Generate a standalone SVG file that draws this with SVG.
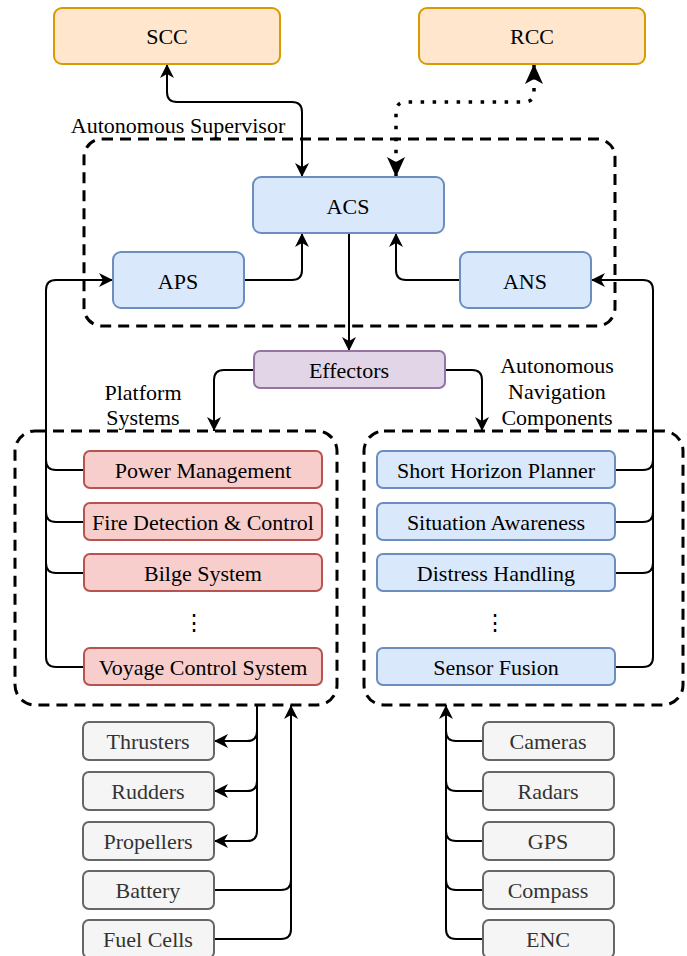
<svg xmlns="http://www.w3.org/2000/svg" width="687" height="956" viewBox="0 0 687 956" font-family="'Liberation Serif', Tinos, 'DejaVu Serif', 'Times New Roman', serif">
<style>
text{font-family:'Liberation Serif', Tinos, 'DejaVu Serif', 'Times New Roman', serif;font-size:22px;text-anchor:middle;fill:#000}
.orange{fill:#ffe6cc;stroke:#d79b00;stroke-width:2}
.blue{fill:#dae8fc;stroke:#6c8ebf;stroke-width:2}
.purple{fill:#e1d5e7;stroke:#9673a6;stroke-width:2}
.red{fill:#f8cecc;stroke:#b85450;stroke-width:2}
.grey{fill:#f5f5f5;stroke:#666666;stroke-width:2}
.gt{fill:#333333}
.cont{fill:none;stroke:#000;stroke-width:3;stroke-dasharray:11 7}
.c{fill:none;stroke:#000;stroke-width:2}
.a{marker-end:url(#arr)}
.dot{fill:none;stroke:#000;stroke-width:3.5;stroke-dasharray:3.5 8.5;marker-start:url(#arrB);marker-end:url(#arrB)}
</style>
<defs>
<marker id="arr" markerUnits="userSpaceOnUse" markerWidth="16" markerHeight="16" viewBox="0 0 16 16" refX="15" refY="8" orient="auto-start-reverse">
<path d="M1,1 L15,8 L1,15 L5,8 Z" fill="#000" stroke="none"/>
</marker>
<marker id="arrB" markerUnits="userSpaceOnUse" markerWidth="22" markerHeight="20" viewBox="0 0 22 20" refX="21" refY="10" orient="auto-start-reverse">
<path d="M1,1 L21,10 L1,19 L6,10 Z" fill="#000" stroke="none"/>
</marker>
</defs>

<g id="containers">
<rect class="cont" x="84" y="139" width="531" height="187" rx="18"/>
<rect class="cont" x="15" y="431" width="322" height="274" rx="20"/>
<rect class="cont" x="364" y="431" width="319" height="274" rx="20"/>
</g>

<g id="labels">
<text x="178" y="133">Autonomous Supervisor</text>
<text x="143" y="400">Platform</text>
<text x="143" y="425">Systems</text>
<text x="557" y="373">Autonomous</text>
<text x="557" y="399">Navigation</text>
<text x="557" y="425">Components</text>
<text x="194" y="630">⋮</text>
<text x="495" y="630">⋮</text>
</g>

<g id="connectors">
<path class="c" d="M167,64 L167,92 Q167,102 177,102 L292,102 Q302,102 302,112 L302,177" marker-start="url(#arr)" marker-end="url(#arr)"/>
<path class="dot" d="M534,64 L534,92 Q534,102 524,102 L406,102 Q396,102 396,112 L396,177"/>
<path class="c a" d="M244,280 L292,280 Q302,280 302,270 L302,233"/>
<path class="c a" d="M460,280 L406,280 Q396,280 396,270 L396,233"/>
<path class="c a" d="M349,233 L349,351"/>
<path class="c a" d="M254,370 L224,370 Q214,370 214,380 L214,431"/>
<path class="c a" d="M445,370 L472,370 Q482,370 482,380 L482,431"/>
<path class="c a" d="M84,667 L56,667 Q46,667 46,657 L46,290 Q46,280 56,280 L113,280"/>
<path class="c" d="M84,470 L56,470 Q46,470 46,460 M84,522 L56,522 Q46,522 46,512 M84,573 L56,573 Q46,573 46,563"/>
<path class="c a" d="M615,667 L643,667 Q653,667 653,657 L653,290 Q653,280 643,280 L591,280"/>
<path class="c" d="M615,470 L643,470 Q653,470 653,460 M615,522 L643,522 Q653,522 653,512 M615,573 L643,573 Q653,573 653,563"/>
<path class="c a" d="M257,705 L257,731 Q257,741 247,741 L214,741"/>
<path class="c a" d="M257,731 L257,781 Q257,791 247,791 L214,791"/>
<path class="c a" d="M257,781 L257,831 Q257,841 247,841 L214,841"/>
<path class="c a" d="M214,890 L281,890 Q291,890 291,880 L291,705"/>
<path class="c" d="M214,939 L281,939 Q291,939 291,929 L291,880"/>
<path class="c a" d="M483,741 L456,741 Q446,741 446,731 L446,705"/>
<path class="c" d="M483,939 L456,939 Q446,939 446,929 L446,731 M483,791 L456,791 Q446,791 446,781 M483,841 L456,841 Q446,841 446,831 M483,890 L456,890 Q446,890 446,880"/>
</g>

<g id="SCC"><rect class="orange" x="54" y="8" width="226" height="56" rx="8"/><text x="167" y="44">SCC</text></g>
<g id="RCC"><rect class="orange" x="419" y="8" width="226" height="56" rx="8"/><text x="532" y="44">RCC</text></g>
<g id="ACS"><rect class="blue" x="253" y="177" width="191" height="56" rx="8"/><text x="348" y="214">ACS</text></g>
<g id="APS"><rect class="blue" x="113" y="252" width="131" height="56" rx="8"/><text x="178" y="289">APS</text></g>
<g id="ANS"><rect class="blue" x="460" y="252" width="131" height="56" rx="8"/><text x="525" y="289">ANS</text></g>
<g id="Effectors"><rect class="purple" x="254" y="351" width="191" height="37" rx="6"/><text x="349" y="378">Effectors</text></g>

<g id="PowerManagement"><rect class="red" x="84" y="451" width="238" height="37" rx="6"/><text x="203" y="478">Power Management</text></g>
<g id="FireDetection"><rect class="red" x="84" y="503" width="238" height="37" rx="6"/><text x="203" y="530">Fire Detection &amp; Control</text></g>
<g id="Bilge"><rect class="red" x="84" y="554" width="238" height="37" rx="6"/><text x="203" y="581">Bilge System</text></g>
<g id="Voyage"><rect class="red" x="84" y="648" width="238" height="37" rx="6"/><text x="203" y="675">Voyage Control System</text></g>

<g id="ShortHorizon"><rect class="blue" x="377" y="451" width="238" height="37" rx="6"/><text x="496" y="478">Short Horizon Planner</text></g>
<g id="Situation"><rect class="blue" x="377" y="503" width="238" height="37" rx="6"/><text x="496" y="530">Situation Awareness</text></g>
<g id="Distress"><rect class="blue" x="377" y="554" width="238" height="37" rx="6"/><text x="496" y="581">Distress Handling</text></g>
<g id="SensorFusion"><rect class="blue" x="377" y="648" width="238" height="37" rx="6"/><text x="496" y="675">Sensor Fusion</text></g>

<g id="Thrusters"><rect class="grey" x="83" y="722" width="131" height="38" rx="6"/><text class="gt" x="148" y="749">Thrusters</text></g>
<g id="Rudders"><rect class="grey" x="83" y="772" width="131" height="38" rx="6"/><text class="gt" x="148" y="799">Rudders</text></g>
<g id="Propellers"><rect class="grey" x="83" y="822" width="131" height="38" rx="6"/><text class="gt" x="148" y="849">Propellers</text></g>
<g id="Battery"><rect class="grey" x="83" y="871" width="131" height="38" rx="6"/><text class="gt" x="148" y="898">Battery</text></g>
<g id="FuelCells"><rect class="grey" x="83" y="920" width="131" height="38" rx="6"/><text class="gt" x="148" y="947">Fuel Cells</text></g>

<g id="Cameras"><rect class="grey" x="483" y="722" width="131" height="38" rx="6"/><text class="gt" x="548" y="749">Cameras</text></g>
<g id="Radars"><rect class="grey" x="483" y="772" width="131" height="38" rx="6"/><text class="gt" x="548" y="799">Radars</text></g>
<g id="GPS"><rect class="grey" x="483" y="822" width="131" height="38" rx="6"/><text class="gt" x="548" y="849">GPS</text></g>
<g id="Compass"><rect class="grey" x="483" y="871" width="131" height="38" rx="6"/><text class="gt" x="548" y="898">Compass</text></g>
<g id="ENC"><rect class="grey" x="483" y="920" width="131" height="38" rx="6"/><text class="gt" x="548" y="947">ENC</text></g>
</svg>
